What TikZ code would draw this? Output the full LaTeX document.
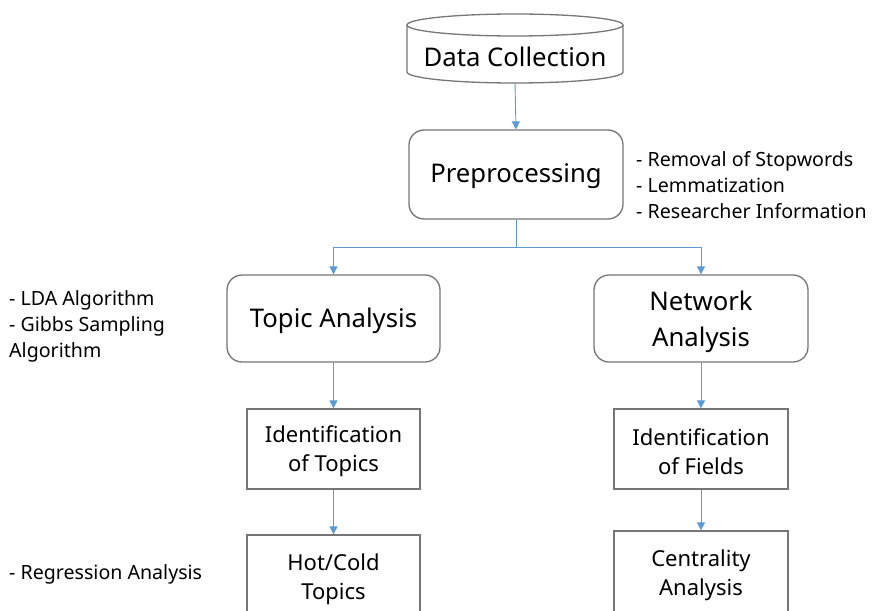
\documentclass[tikz,border=0pt]{standalone}
\usepackage{fontspec}
\setmainfont{Noto Sans}
\usetikzlibrary{arrows.meta}
\definecolor{edgegray}{HTML}{767676}
\definecolor{flowblue}{HTML}{5B9BD5}
\tikzset{
  roundbox/.style={draw=edgegray, line width=1.3pt, rounded corners=15pt, fill=white, inner sep=0pt},
  plainbox/.style={draw=edgegray, line width=1.3pt, fill=white, inner sep=0pt},
  bigtext/.style={align=center, inner sep=0pt, font=\fontsize{25.7}{36}\selectfont},
  smalltext/.style={align=center, inner sep=0pt, font=\fontsize{22}{29}\selectfont},
  note/.style={anchor=west, align=left, inner sep=0pt, font=\fontsize{19.6}{26}\selectfont},
  flow/.style={draw=flowblue, line width=0.9pt, -{Triangle[width=8pt,length=8pt]}},
  flowline/.style={draw=flowblue, line width=0.9pt}
}
\begin{document}
\begin{tikzpicture}[x=1pt,y=-1pt]
\useasboundingbox (0,0) rectangle (872,610);
\clip (0,0) rectangle (872,610);

% data source drawn as a cylinder
\fill[white] (407,25) -- (407,72) arc[start angle=180,end angle=0,x radius=108,y radius=11] -- (623,25) -- cycle;
\draw[edgegray, line width=1.3pt] (407,25) -- (407,72) arc[start angle=180,end angle=0,x radius=108,y radius=11] -- (623,25);
\draw[edgegray, line width=1.3pt] (515,25) ellipse[x radius=108, y radius=11];
\node[inner sep=0pt, minimum width=216pt, minimum height=69pt] (dc) at (515,48.5) {};
\node[bigtext] (dctext) at (515,57) {Data Collection};

% main steps
\node[roundbox, minimum width=214pt, minimum height=89pt] (pre) at (516,174.5) {};
\node[bigtext] (pretext) at (516,176.5) {Preprocessing};
\node[roundbox, minimum width=213pt, minimum height=87pt] (topic) at (333.5,318.5) {};
\node[bigtext] (topictext) at (333.5,320.5) {Topic Analysis};
\node[roundbox, minimum width=214pt, minimum height=87pt] (net) at (701,318.5) {};
\node[bigtext] (nettext) at (701,322) {Network\\Analysis};

\node[plainbox, minimum width=173pt, minimum height=80pt] (idt) at (333.5,449) {};
\node[smalltext] (idttext) at (333.5,451) {Identification\\of Topics};
\node[plainbox, minimum width=174pt, minimum height=80pt] (idf) at (701,449) {};
\node[smalltext] (idftext) at (701,452) {Identification\\of Fields};
\node[plainbox, minimum width=173pt, minimum height=84pt] (hot) at (333.5,577) {};
\node[smalltext] (hottext) at (333.5,579) {Hot/Cold\\Topics};
\node[plainbox, minimum width=174pt, minimum height=82pt] (cen) at (701,572) {};
\node[smalltext] (centext) at (701,575) {Centrality\\Analysis};

% annotations
\node[note] (n1) at (636,185) {- Removal of Stopwords\\- Lemmatization\\- Researcher Information};
\node[note] (n2) at (9,326) {- LDA Algorithm\\- Gibbs Sampling\\Algorithm};
\node[note] (n3) at (9,574) {- Regression Analysis};

% connectors
\coordinate (j) at (516,247);
\draw[flow] (dc.south) -- (pre.north);
\draw[flowline] (pre.south) -- (j);
\draw[flow] (j) -| (topic.north);
\draw[flow] (j) -| (net.north);
\draw[flow] (topic.south) -- (idt.north);
\draw[flow] (net.south) -- (idf.north);
\draw[flow] (idt.south) -- (hot.north);
\draw[flow] (idf.south) -- (cen.north);
\end{tikzpicture}
\end{document}
